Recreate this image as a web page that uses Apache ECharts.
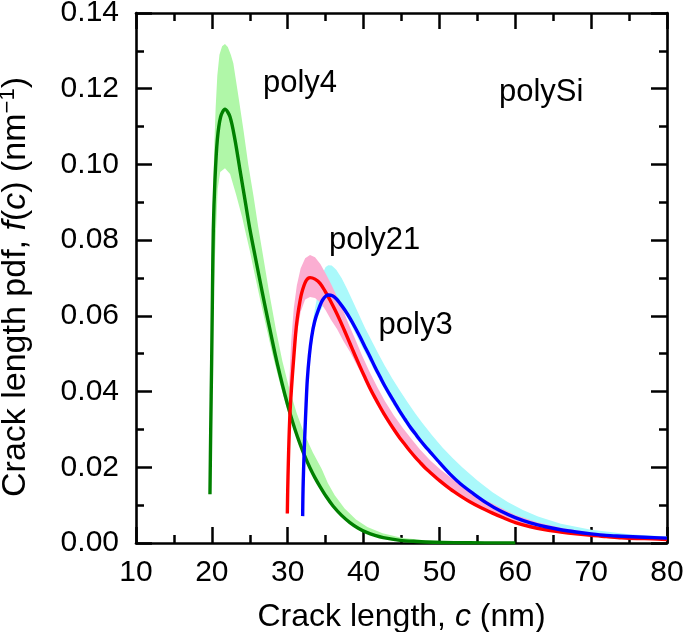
<!DOCTYPE html>
<html><head><meta charset="utf-8">
<script src="https://cdn.jsdelivr.net/npm/echarts@6/dist/echarts.min.js"></script>
<style>html,body{margin:0;padding:0;background:#fff}#c{width:685px;height:632px}</style>
</head><body><div id="c"></div>
<script>
// ---- data (c in nm, f(c) in nm^-1) ----
const poly4Line = [[19.75,0.0129],[19.85,0.03],[19.97,0.0475],[20.08,0.066],[20.19,0.0827],[20.41,0.0959],[20.72,0.1065],[21.16,0.1126],[21.73,0.1146],[22.39,0.1126],[23.05,0.1065],[23.71,0.0985],[24.37,0.0906],[25.03,0.0827],[25.7,0.0758],[26.35,0.0692],[27.0,0.0627],[27.66,0.0564],[28.3,0.0503],[28.98,0.0444],[29.64,0.0391],[30.3,0.0343],[30.96,0.03],[31.62,0.0262],[32.28,0.0228],[32.94,0.0198],[33.6,0.0172],[34.26,0.0149],[35.1,0.0122],[36.0,0.0097],[37.1,0.0073],[38.2,0.0054],[39.3,0.0039],[40.4,0.0028],[41.5,0.002],[42.6,0.0014],[44.8,0.0007],[47,0.0004],[49.2,0.0002],[52,0.0001],[56,0.00004],[60,0.00002]];
const poly4Upper = [[19.7,0.0129],[19.8,0.03],[19.92,0.05],[20.02,0.07],[20.1,0.0827],[20.2,0.095],[20.32,0.105],[20.5,0.115],[20.72,0.1235],[21.0,0.129],[21.35,0.1312],[21.73,0.1318],[22.1,0.131],[22.5,0.129],[22.83,0.1267],[23.5,0.118],[24.17,0.109],[24.8,0.1],[25.5,0.0915],[26.1,0.0836],[26.7,0.0765],[27.5,0.0668],[28.45,0.0563],[29.3,0.048],[30.2,0.0408],[31.2,0.0342],[32.2,0.0288],[33.3,0.024],[34.5,0.0195],[35.3,0.0158],[36.2,0.0126],[37.5,0.0091],[39,0.0062],[40.5,0.0042],[42.5,0.0026],[45,0.0014],[48,0.0007],[52,0.0003],[56,0.0001],[60,0.00003]];
const poly4Lower = [[19.8,0.0129],[20.0,0.04],[20.2,0.062],[20.4,0.075],[20.55,0.0827],[20.77,0.0935],[21.1,0.098],[21.73,0.099],[22.4,0.0975],[23.2,0.092],[24.0,0.086],[24.37,0.0827],[25.0,0.0772],[25.7,0.0705],[26.4,0.064],[27.2,0.0568],[28.0,0.0498],[29.0,0.042],[30.0,0.0348],[31.0,0.0288],[32.0,0.0238],[33.0,0.0192],[34.0,0.0155],[35.0,0.0123],[36.0,0.0094],[37.1,0.007],[38.2,0.0051],[40.4,0.0027],[42.6,0.0014],[44.8,0.0007],[47,0.0004],[50,0.0002],[55,0.00005],[60,0.0]];

const poly21Line = [[29.95,0.0078],[30.0,0.014],[30.08,0.021],[30.18,0.028],[30.3,0.0343],[30.5,0.041],[30.74,0.0475],[30.95,0.053],[31.18,0.058],[31.5,0.0625],[31.84,0.066],[32.4,0.0692],[32.94,0.0701],[33.6,0.0697],[34.26,0.0686],[34.9,0.0666],[35.57,0.0642],[36.23,0.0616],[36.89,0.0588],[37.55,0.0558],[38.21,0.0527],[38.87,0.0496],[39.53,0.0466],[40.19,0.0437],[40.85,0.0409],[41.5,0.0384],[42.16,0.036],[42.82,0.0337],[43.48,0.0316],[44.14,0.0296],[44.8,0.0277],[45.5,0.0259],[46.12,0.0243],[46.8,0.0227],[47.44,0.0213],[48.1,0.0199],[48.76,0.0187],[50.07,0.0164],[51.4,0.0143],[52.8,0.0124],[54.0,0.0109],[55.5,0.0093],[57,0.0079],[58.5,0.0066],[60,0.0054],[62,0.0043],[64,0.0035],[66,0.0029],[68,0.0024],[70,0.002],[72,0.0017],[74,0.0014],[76,0.0012],[78,0.0011],[80,0.0009]];
const poly21Upper = [[29.88,0.0078],[29.95,0.02],[30.05,0.03],[30.2,0.042],[30.45,0.053],[30.8,0.062],[31.2,0.068],[31.7,0.0725],[32.3,0.0752],[32.94,0.0761],[33.6,0.0755],[34.3,0.0737],[35.0,0.0712],[35.7,0.0685],[36.4,0.0655],[37.2,0.062],[38.0,0.058],[38.9,0.0538],[39.8,0.0495],[40.8,0.0452],[41.8,0.0412],[42.8,0.0375],[44.0,0.0337],[45.2,0.0303],[46.5,0.027],[47.44,0.0247],[48.8,0.0218],[50.2,0.0193],[52,0.0165],[54,0.0138],[56,0.0114],[58,0.0094],[60,0.0074],[63,0.0054],[66,0.004],[70,0.0028],[75,0.0017],[80,0.0012]];
const poly21Lower = [[29.98,0.0078],[30.15,0.022],[30.4,0.033],[30.75,0.045],[31.2,0.055],[31.7,0.061],[32.3,0.0643],[32.94,0.065],[33.6,0.0647],[34.3,0.0635],[35.0,0.0615],[35.7,0.059],[36.5,0.0565],[37.3,0.0535],[38.2,0.0505],[39.5,0.0455],[40.85,0.0398],[42.16,0.035],[43.48,0.0307],[44.8,0.027],[46.12,0.0238],[47.44,0.0207],[48.76,0.0181],[50.07,0.0158],[52.8,0.012],[55.5,0.009],[58.5,0.0063],[62,0.0041],[66,0.0027],[70,0.0019],[75,0.0012],[80,0.0008]];

const poly3Line = [[31.97,0.0071],[32.0,0.012],[32.05,0.0166],[32.15,0.023],[32.28,0.0298],[32.42,0.0365],[32.58,0.043],[32.85,0.0495],[33.16,0.0545],[33.55,0.0585],[34.03,0.0615],[34.6,0.0642],[35.35,0.0655],[35.9,0.0653],[36.4,0.0645],[36.89,0.0633],[37.55,0.0615],[38.2,0.0594],[38.87,0.057],[39.53,0.0545],[40.19,0.0518],[40.85,0.0492],[41.5,0.0465],[42.17,0.0439],[42.82,0.0414],[43.48,0.0391],[44.14,0.0369],[44.8,0.0347],[45.46,0.0327],[46.12,0.0307],[46.8,0.0289],[47.44,0.0272],[48.1,0.0256],[48.76,0.0241],[50.07,0.0211],[51.4,0.0182],[52.8,0.0156],[54.5,0.013],[56.2,0.0106],[58,0.0085],[60,0.0067],[62,0.0053],[64,0.0043],[66,0.0035],[68,0.0029],[70,0.0024],[72,0.002],[74,0.0018],[77,0.0015],[80,0.0013]];
const poly3Upper = [[31.9,0.0071],[31.95,0.015],[32.05,0.024],[32.2,0.033],[32.4,0.041],[32.7,0.049],[33.1,0.056],[33.6,0.062],[34.1,0.0672],[34.6,0.0712],[35.0,0.0729],[35.35,0.0734],[35.8,0.0733],[36.4,0.0722],[37.1,0.07],[37.8,0.0672],[38.6,0.0638],[39.4,0.0603],[40.2,0.0568],[41.1,0.0533],[42.0,0.0498],[42.8,0.0468],[43.8,0.0434],[44.8,0.0402],[45.8,0.0372],[46.8,0.0343],[47.7,0.0318],[49.0,0.0285],[50.4,0.0252],[51.7,0.0225],[53,0.02],[55,0.0165],[57,0.0134],[59,0.0108],[61,0.0087],[63,0.007],[66,0.0051],[70,0.0035],[75,0.0023],[80,0.0017]];
const poly3Lower = [[31.99,0.0071],[32.1,0.018],[32.3,0.029],[32.6,0.041],[33.0,0.05],[33.5,0.0565],[34.1,0.0605],[34.8,0.0632],[35.5,0.0642],[36.2,0.0638],[36.9,0.0625],[37.6,0.0605],[38.3,0.058],[39.5,0.053],[40.85,0.0478],[42.17,0.0427],[43.48,0.038],[44.8,0.0337],[46.12,0.0298],[47.44,0.0264],[48.76,0.0234],[50.07,0.0206],[52.8,0.0151],[56.2,0.0099],[60,0.0062],[64,0.004],[68,0.0027],[72,0.0019],[76,0.0014],[80,0.0012]];

const annotations = [[26.74,0.1213,'poly4'],[57.85,0.119,'polySi'],[35.44,0.0798,'poly21'],[41.97,0.0575,'poly3']];

const xMin = 10, xMax = 80, xStep = 10;
const yMin = 0, yMax = 0.14, yStep = 0.02;

// ---- chart ----
const FONT = '"Liberation Sans", Arial, Helvetica, sans-serif';
const chart = echarts.init(document.getElementById('c'), null, {renderer: 'canvas'});

function band(name, upper, lower, color) {
  const poly = upper.concat(lower.slice().reverse());
  return {
    type: 'custom', name: name, data: poly, z: 1, silent: true,
    xAxisIndex: 0, yAxisIndex: 0,
    renderItem: function (params, api) {
      if (params.dataIndex !== 0) return null;
      return {
        type: 'polygon',
        shape: {points: poly.map(function (p) { return api.coord(p); })},
        style: {fill: color, stroke: null}
      };
    }
  };
}
function curve(name, data, color) {
  return {
    type: 'line', name: name, data: data, showSymbol: false, symbol: 'none',
    smooth: 0.3, z: 3, silent: true,
    lineStyle: {color: color, width: 3.4, cap: 'butt', join: 'round'}
  };
}

const axisCommon = {
  type: 'value',
  axisLine: {show: true, onZero: false, lineStyle: {color: '#000', width: 2.6}},
  axisTick: {show: true, inside: true, length: 16, lineStyle: {color: '#000', width: 2.5}},
  minorTick: {show: true, splitNumber: 2, length: 8, lineStyle: {color: '#000', width: 2.5}},
  splitLine: {show: false}, minorSplitLine: {show: false}
};

const option = {
  animation: false,
  backgroundColor: '#fff',
  grid: {left: 136, right: 18, top: 13, bottom: 89, containLabel: false, outerBoundsMode: 'none'},
  xAxis: [
    Object.assign({}, axisCommon, {
      position: 'bottom', min: xMin, max: xMax, interval: xStep,
      axisLabel: {color: '#000', fontSize: 30, fontFamily: FONT, margin: 15},
      name: '{n|Crack length, }{i|c}{n| (nm)}', nameLocation: 'middle', nameGap: 58,
      nameTextStyle: {color: '#000', fontFamily: FONT, fontSize: 32,
        rich: {n: {fontSize: 32, fontFamily: FONT, color: '#000'},
               i: {fontSize: 32, fontFamily: FONT, fontStyle: 'italic', color: '#000'}}}
    }),
    Object.assign({}, axisCommon, {
      position: 'top', min: xMin, max: xMax, interval: xStep, axisLabel: {show: false}
    })
  ],
  yAxis: [
    Object.assign({}, axisCommon, {
      position: 'left', min: yMin, max: yMax, interval: yStep,
      axisLabel: {color: '#000', fontSize: 30, fontFamily: FONT, margin: 17,
        formatter: function (v) { return v.toFixed(2); }},
      name: '{n|Crack length pdf, }{i|f}{n|(}{i|c}{n|) (nm}{s|−1}{n|)}',
      nameLocation: 'middle', nameGap: 102,
      nameTextStyle: {color: '#000', fontFamily: FONT, fontSize: 34, padding: [0, 18, 0, 0],
        rich: {n: {fontSize: 34, fontFamily: FONT, color: '#000', lineHeight: 37},
               i: {fontSize: 34, fontFamily: FONT, fontStyle: 'italic', color: '#000', lineHeight: 37},
               s: {fontSize: 22, fontFamily: FONT, color: '#000', verticalAlign: 'top', lineHeight: 22}}}
    }),
    Object.assign({}, axisCommon, {
      position: 'right', min: yMin, max: yMax, interval: yStep, axisLabel: {show: false}
    })
  ],
  series: [
    band('poly4 band', poly4Upper, poly4Lower, '#b0f7a8'),
    band('poly3 band', poly3Upper, poly3Lower, '#aaf9fb'),
    band('poly21 band', poly21Upper, poly21Lower, '#fbaed2'),
    curve('poly4', poly4Line, '#008000'),
    curve('poly21', poly21Line, '#ff0000'),
    curve('poly3', poly3Line, '#0000ff'),
    {
      type: 'scatter', name: 'labels', symbolSize: 0, z: 5, silent: true,
      itemStyle: {opacity: 1},
      data: annotations.map(function (a) { return {value: [a[0], a[1]], name: a[2]}; }),
      label: {show: true, position: 'right', distance: 0, formatter: '{b}', opacity: 1,
        color: '#000', fontSize: 31, fontFamily: FONT}
    }
  ]
};
chart.setOption(option);
</script>
</body></html>
